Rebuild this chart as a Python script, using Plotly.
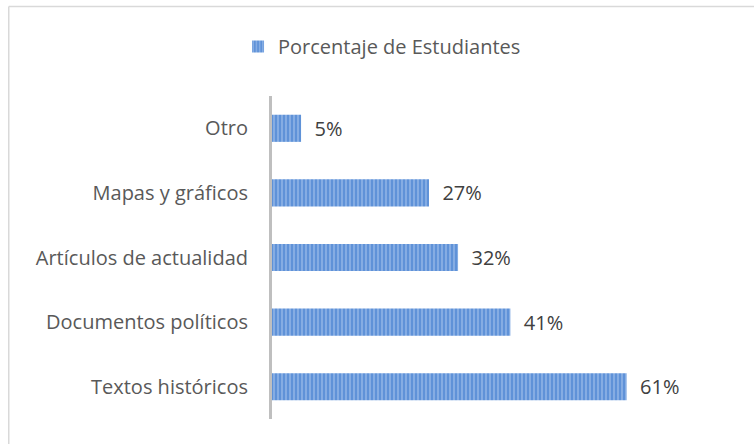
import plotly.graph_objects as go

categories = ["Textos históricos", "Documentos políticos", "Artículos de actualidad", "Mapas y gráficos", "Otro"]
values = [61, 41, 32, 27, 5]
series_name = "Porcentaje de Estudiantes"

W, H = 754, 444
L, T, B = 272, 96, 25
UNIT = 5.82
XMAX = 70
pw = XMAX * UNIT
R = W - L - pw
ph = H - T - B

FONT = "Open Sans"

fig = go.Figure()
fig.add_trace(go.Bar(
    y=categories, x=values, orientation="h", name=series_name,
    marker=dict(color="#5F92D8", line=dict(width=0),
                pattern=dict(shape="|", fgcolor="#B3CDF0", size=4, solidity=0.45)),
    text=[f"{v}%" for v in values], textposition="outside",
    texttemplate="  %{text}", cliponaxis=False,
    textfont=dict(family=FONT, size=20, color="#404040"),
    showlegend=True,
))

def px_x(p):
    return (p - L) / pw
def px_y(p):
    return 1 - (p - T) / ph

# chart frame (top and left edges visible; the rest is cropped off)
fig.add_shape(type="line", xref="paper", yref="paper",
              x0=px_x(8.5), x1=px_x(760), y0=px_y(6.5), y1=px_y(6.5),
              line=dict(color="#D9D9D9", width=1.5), layer="below")
fig.add_shape(type="line", xref="paper", yref="paper",
              x0=px_x(8.5), x1=px_x(8.5), y0=px_y(6.5), y1=px_y(450),
              line=dict(color="#D9D9D9", width=1.5), layer="below")

fig.update_layout(
    width=W, height=H, margin=dict(l=L, r=R, t=T, b=B, pad=0),
    paper_bgcolor="white", plot_bgcolor="white",
    bargap=0.58,
    font=dict(family=FONT, size=20, color="#595959"),
    legend=dict(orientation="h", x=px_x(238), xanchor="left", y=px_y(27), yanchor="top",
                font=dict(family=FONT, size=20, color="#595959"), itemwidth=30),
    xaxis=dict(range=[0, XMAX], visible=False),
    yaxis=dict(showline=True, linecolor="#BFBFBF", linewidth=3, ticks="",
               ticklabelstandoff=17, showgrid=False,
               tickfont=dict(family=FONT, size=20, color="#595959")),
)

fig.write_html("out.html", config={"displayModeBar": False},
               post_script="document.body.style.margin='0';")
